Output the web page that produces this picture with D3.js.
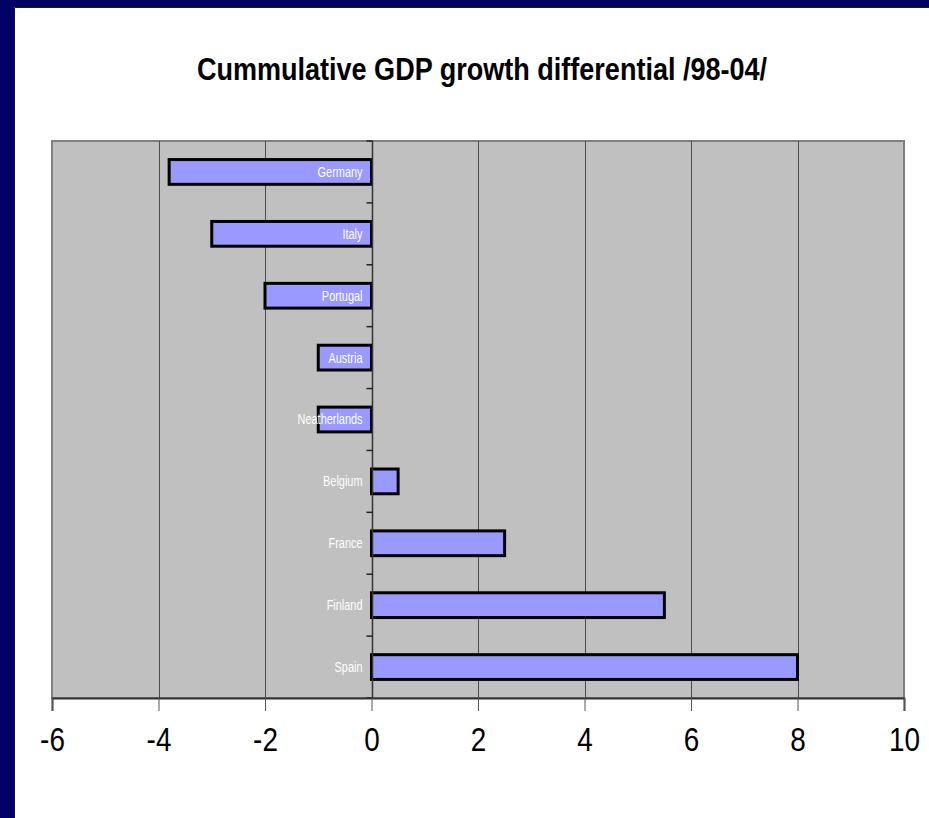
<!DOCTYPE html>
<html>
<head>
<meta charset="utf-8">
<script src="https://cdn.jsdelivr.net/npm/d3@7/dist/d3.min.js"></script>
<style>
  html, body { margin: 0; padding: 0; background: #ffffff; }
  svg { display: block; }
  text { font-family: "Liberation Sans", Arial, sans-serif; }
</style>
</head>
<body>
<svg id="chart" width="929" height="818"></svg>
<script>
// Cumulative GDP growth differential, 1998-2004 (percentage points)
const countries = ["Germany", "Italy", "Portugal", "Austria", "Neatherlands", "Belgium", "France", "Finland", "Spain"];
const differential = [-3.8, -3.0, -2.0, -1.0, -1.0, 0.5, 2.5, 5.5, 8.0];
const xTicks = [-6, -4, -2, 0, 2, 4, 6, 8, 10];
const titleText = "Cummulative GDP growth differential /98-04/";

const W = 929, H = 818;
const plot = { left: 52, top: 141, right: 904, bottom: 698 };
const NARROW = 0.82; // horizontal squeeze for a condensed look

const svg = d3.select("#chart");

// slide frame: navy band on the top and left edges
svg.append("rect").attr("width", W).attr("height", H).attr("fill", "#000066");
svg.append("rect").attr("x", 14).attr("y", 7).attr("width", W - 14).attr("height", H - 7)
  .attr("fill", "#ffffff");
svg.append("path").attr("d", `M14.5,${H}V7.5H${W}`).attr("fill", "none")
  .attr("stroke", "#1a1a1a").attr("stroke-width", 1);

svg.append("text")
  .attr("transform", `translate(482,80) scale(0.845,1)`)
  .attr("text-anchor", "middle")
  .attr("font-size", 32).attr("font-weight", "bold").attr("fill", "#000")
  .text(titleText);

const x = d3.scaleLinear().domain([d3.min(xTicks), d3.max(xTicks)]).range([plot.left, plot.right]);
const y = d3.scaleBand().domain(countries).range([plot.top, plot.bottom]).paddingInner(0.6).paddingOuter(0.3);

// plot area
svg.append("rect")
  .attr("x", plot.left).attr("y", plot.top)
  .attr("width", plot.right - plot.left).attr("height", plot.bottom - plot.top)
  .attr("fill", "#c0c0c0").attr("stroke", "#808080").attr("stroke-width", 2);

// vertical gridlines
svg.append("g")
  .selectAll("line")
  .data(xTicks.filter(t => t !== 0 && t !== xTicks[0] && t !== xTicks[xTicks.length - 1]))
  .join("line")
  .attr("x1", d => Math.round(x(d)) + 0.5).attr("x2", d => Math.round(x(d)) + 0.5)
  .attr("y1", plot.top).attr("y2", plot.bottom)
  .attr("stroke", "#4d4d4d").attr("stroke-width", 1);

// bars
svg.append("g")
  .selectAll("rect")
  .data(countries.map((c, i) => ({ c, v: differential[i] })))
  .join("rect")
  .attr("x", d => x(Math.min(0, d.v)))
  .attr("y", d => y(d.c))
  .attr("width", d => Math.abs(x(d.v) - x(0)))
  .attr("height", y.bandwidth())
  .attr("fill", "#9999ff")
  .attr("stroke", "#000").attr("stroke-width", 3);

// category axis at zero, with tick marks between categories
const zeroX = Math.round(x(0)) + 0.5;
const catAxis = svg.append("g");
catAxis.append("line")
  .attr("x1", zeroX).attr("x2", zeroX).attr("y1", plot.top).attr("y2", plot.bottom)
  .attr("stroke", "#333").attr("stroke-width", 1.5);
const rowH = (plot.bottom - plot.top) / countries.length;
catAxis.selectAll("line.tick")
  .data(d3.range(countries.length + 1))
  .join("line")
  .attr("class", "tick")
  .attr("x1", zeroX - 6).attr("x2", zeroX)
  .attr("y1", i => plot.top + i * rowH)
  .attr("y2", i => plot.top + i * rowH)
  .attr("stroke", "#222").attr("stroke-width", 1.5);

catAxis.selectAll("text")
  .data(countries)
  .join("text")
  .attr("transform", d => `translate(${zeroX - 10},${y(d) + y.bandwidth() / 2}) scale(0.78,1)`)
  .attr("dy", "0.35em")
  .attr("text-anchor", "end")
  .attr("font-size", 14)
  .attr("fill", "#ffffff")
  .text(d => d);

// value axis along the bottom
const xAxis = d3.axisBottom(x).tickValues(xTicks).tickSize(13).tickPadding(16).tickFormat(d => String(d));
const gx = svg.append("g").attr("transform", `translate(0,${plot.bottom})`).call(xAxis);
gx.attr("font-family", null).attr("font-size", null);
gx.select(".domain").attr("stroke", "#333").attr("stroke-width", 2);
gx.selectAll(".tick line").attr("stroke", "#555");
gx.selectAll(".tick text")
  .attr("transform", `scale(${NARROW},1)`)
  .attr("font-size", 34)
  .attr("fill", "#000");
</script>
</body>
</html>
